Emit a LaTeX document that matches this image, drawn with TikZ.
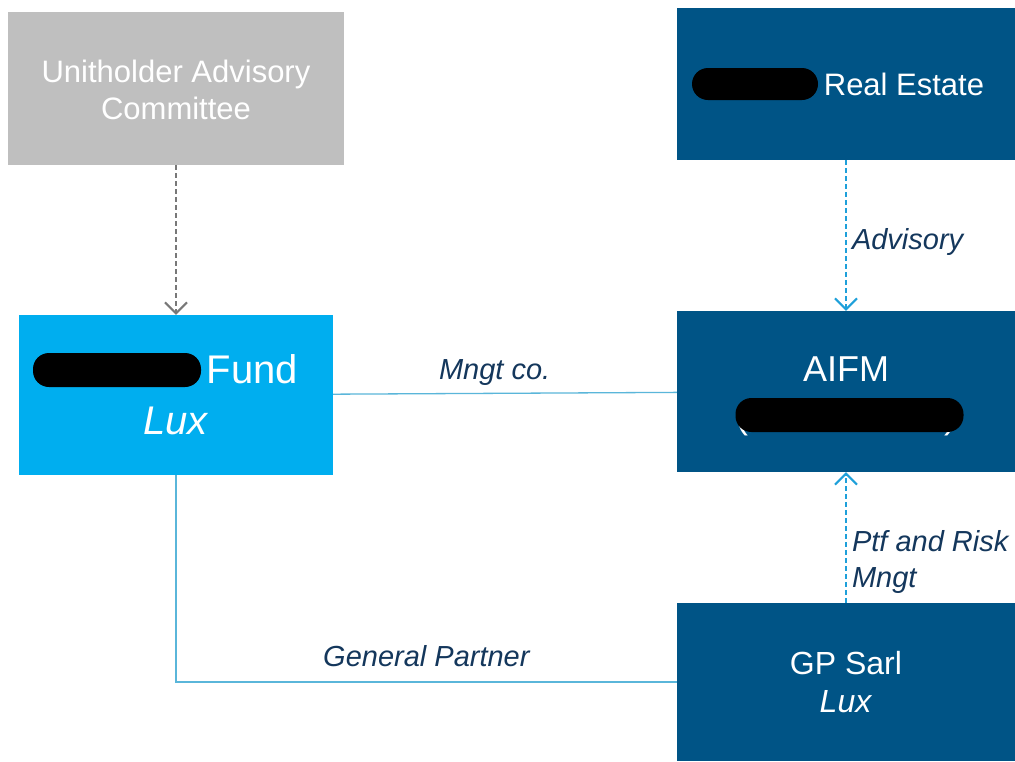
\documentclass[tikz,border=0pt]{standalone}
\usepackage{fontspec}
\setmainfont{Liberation Sans}
\usetikzlibrary{arrows.meta,positioning}

\definecolor{navybox}{RGB}{0,84,134}
\definecolor{skybox}{RGB}{0,174,239}
\definecolor{greybox}{RGB}{191,191,191}
\definecolor{linkblue}{RGB}{30,160,218}
\definecolor{linklight}{RGB}{90,182,218}
\definecolor{labelnavy}{RGB}{20,55,92}
\definecolor{arrowgrey}{RGB}{120,120,120}

\begin{document}
\begin{tikzpicture}[x=1pt,y=-1pt,
  box/.style={rectangle,inner sep=0pt,text=white,align=center},
  blob/.style={rectangle,rounded corners=16pt,fill=black,inner sep=0pt},
  lbl/.style={font=\fontsize{29}{36}\selectfont\itshape,text=labelnavy,align=left,inner sep=3pt},
  link/.style={linklight,line width=1.3pt},
  dashlink/.style={linkblue,line width=2pt,dash pattern=on 5pt off 3pt,
    -{Straight Barb[length=11pt,width=22pt,line width=2pt]}}]

  \useasboundingbox[fill=white] (0,0) rectangle (1015,761);

  \node[box,fill=greybox,minimum width=336pt,minimum height=153pt,
        font=\fontsize{31}{37}\selectfont] (uac) at (176,88.5) {\rule{0pt}{26pt}Unitholder Advisory\\Committee};
  \node[box,fill=navybox,minimum width=338pt,minimum height=152pt,
        font=\fontsize{31}{37}\selectfont] (re) at (846,84) {\hspace{131pt}Real Estate\hspace{15pt}};
  \node[box,fill=skybox,minimum width=314pt,minimum height=160pt,
        font=\fontsize{40}{51}\selectfont] (fund) at (176,395) {\hspace*{174pt}Fund\hspace*{21pt}\\\textit{Lux}};
  \node[box,fill=navybox,minimum width=338pt,minimum height=161pt,
        font=\fontsize{36}{47}\selectfont] (aifm) at (846,391.5) {\rule{0pt}{34pt}AIFM\\(\hspace{196pt})};
  \node[box,fill=navybox,minimum width=338pt,minimum height=158pt,
        font=\fontsize{32}{38}\selectfont] (gp) at (846,682) {GP Sarl\\\textit{Lux}};

  \node[blob,minimum width=126pt,minimum height=32pt] (reblob) at (755,84) {};
  \node[blob,minimum width=168pt,minimum height=34pt] (fundblob) at (117,370) {};
  \node[blob,minimum width=228pt,minimum height=34pt] (aifmblob) at (849.5,415) {};

  \draw[dashlink,arrowgrey] (uac) -- (fund);
  \draw[dashlink] (re) -- node[lbl,pos=0.54,right=2pt] {Advisory} (aifm);
  \draw[dashlink] (gp) -- node[lbl,pos=0.31,right=2pt] {Ptf and Risk\\Mngt} (aifm);

  \draw[link] (fund) -- node[lbl,pos=0.47,above=4pt] {Mngt co.} (aifm);
  \draw[link] (fund) |- node[lbl,pos=0.75,above=12pt] {General Partner} (gp);

\end{tikzpicture}
\end{document}
